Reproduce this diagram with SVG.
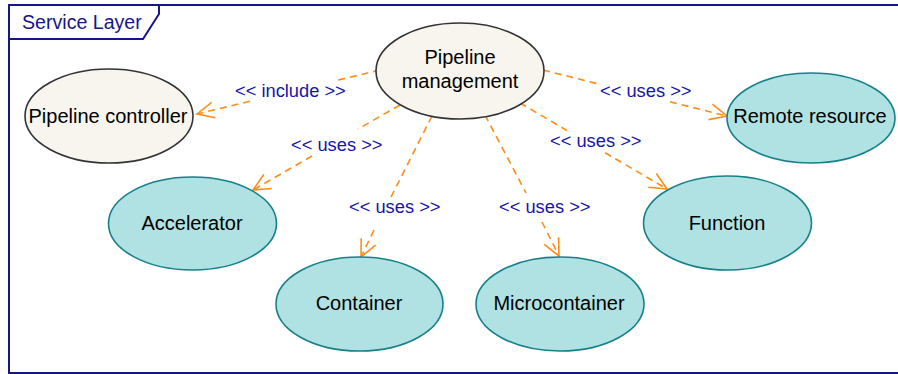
<svg xmlns="http://www.w3.org/2000/svg" width="898" height="374" viewBox="0 0 898 374">
<style>
  .frame { fill: none; stroke: #16168a; stroke-width: 2; }
  .title { font-family: "Liberation Sans", Arial, sans-serif; font-size: 19.6px; fill: #16168a; }
  .main { fill: #f7f5ed; stroke: #333333; stroke-width: 1.6; }
  .res { fill: #b0e2e4; stroke: #16808a; stroke-width: 1.6; }
  .ntext { font-family: "Liberation Sans", Arial, sans-serif; font-size: 20px; fill: #000000; text-anchor: middle; }
  .edge { fill: none; stroke: #ff8c1a; stroke-width: 1.6; stroke-dasharray: 7 5; }
  .lbl { font-family: "Liberation Sans", Arial, sans-serif; font-size: 18.3px; fill: #1616a6; }
</style>
<defs>
  <marker id="arrow" markerUnits="userSpaceOnUse" viewBox="-20 -10 22 20" refX="0" refY="0" markerWidth="22" markerHeight="20" orient="auto">
    <path d="M-17,-8 L0,0 L-17,8" fill="none" stroke="#ff8c1a" stroke-width="1.6" stroke-dasharray="none"/>
  </marker>
</defs>
<rect width="898" height="374" fill="#ffffff"/>
<g id="frame">
  <rect class="frame" x="9" y="5" width="896" height="368"/>
  <path class="frame" d="M9,39 L143,39 L159,14 L159,5"/>
  <text class="title" x="22" y="29">Service Layer</text>
</g>
<g id="connectors">
  <path class="edge" d="M380,70 L335,80.8 M250,101.3 L197,114" marker-end="url(#arrow)"/>
  <text class="lbl" x="235" y="97">&lt;&lt; include &gt;&gt;</text>
  <path class="edge" d="M543,70 L598,83.8 M670,101.8 L727,116" marker-end="url(#arrow)"/>
  <text class="lbl" x="600" y="97">&lt;&lt; uses &gt;&gt;</text>
  <path class="edge" d="M520,103 L567,130.5 M605,152.7 L667,189" marker-end="url(#arrow)"/>
  <text class="lbl" x="550" y="147">&lt;&lt; uses &gt;&gt;</text>
  <path class="edge" d="M400,105 L358,129 M312,156 L253,190" marker-end="url(#arrow)"/>
  <text class="lbl" x="291" y="151">&lt;&lt; uses &gt;&gt;</text>
  <path class="edge" d="M432,116 L391,197 M374,230 L361,257" marker-end="url(#arrow)"/>
  <text class="lbl" x="349" y="213">&lt;&lt; uses &gt;&gt;</text>
  <path class="edge" d="M485,115 L526,193 M542,222 L559,256" marker-end="url(#arrow)"/>
  <text class="lbl" x="499" y="213">&lt;&lt; uses &gt;&gt;</text>
</g>
<g id="pipeline-management">
  <ellipse class="main" cx="460" cy="71" rx="84" ry="48"/>
  <text class="ntext" x="460" y="64">Pipeline</text>
  <text class="ntext" x="460" y="88">management</text>
</g>
<g id="pipeline-controller">
  <ellipse class="main" cx="109" cy="116" rx="84" ry="47"/>
  <text class="ntext" x="108" y="123">Pipeline controller</text>
</g>
<g id="remote-resource">
  <ellipse class="res" cx="811" cy="118" rx="84" ry="45"/>
  <text class="ntext" x="810" y="123">Remote resource</text>
</g>
<g id="accelerator">
  <ellipse class="res" cx="192.5" cy="223.5" rx="84" ry="46.5"/>
  <text class="ntext" x="192" y="230">Accelerator</text>
</g>
<g id="function">
  <ellipse class="res" cx="727.5" cy="223" rx="84" ry="47"/>
  <text class="ntext" x="727" y="230">Function</text>
</g>
<g id="container">
  <ellipse class="res" cx="359.5" cy="304" rx="83.5" ry="47"/>
  <text class="ntext" x="359" y="310">Container</text>
</g>
<g id="microcontainer">
  <ellipse class="res" cx="560" cy="304" rx="84" ry="47"/>
  <text class="ntext" x="559" y="310">Microcontainer</text>
</g>
</svg>
